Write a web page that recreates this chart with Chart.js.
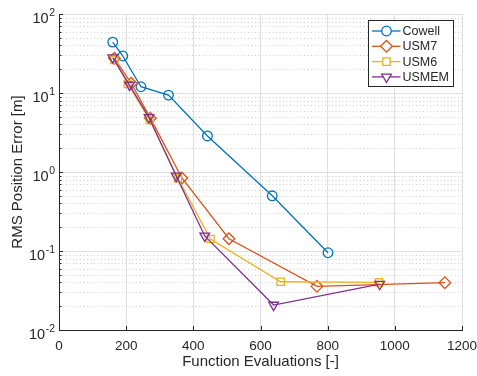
<!DOCTYPE html>
<html>
<head>
<meta charset="utf-8">
<script src="https://cdn.jsdelivr.net/npm/chart.js@4.4.1/dist/chart.umd.min.js"></script>
<style>
  html, body { margin: 0; padding: 0; background: #fff; }
  #wrap { width: 477px; height: 376px; }
</style>
</head>
<body>
<div id="wrap"><canvas id="errChart"></canvas></div>
<script>
// RMS position error vs number of function evaluations, per propagator
const seriesNames = ['Cowell', 'USM7', 'USM6', 'USMEM'];

const cowellEvals = [160, 190, 244, 326, 442, 635, 801];
const cowellErr = [44, 29.4, 12.0, 9.4, 2.86, 0.50, 0.095];

const usm7Evals = [165, 215, 272, 366, 506, 768, 1149];
const usm7Err = [27.5, 13.3, 4.8, 0.84, 0.143, 0.0357, 0.0397];

const usm6Evals = [165, 205, 270, 354, 451, 660, 953];
const usm6Err = [26.2, 13.0, 4.55, 0.83, 0.142, 0.0408, 0.040];

const usmemEvals = [160, 210, 268, 349, 434, 639, 955];
const usmemErr = [28, 12.6, 4.9, 0.89, 0.155, 0.0207, 0.038];

const xTicks = [0, 200, 400, 600, 800, 1000, 1200];
const yTicks = [0.01, 0.1, 1, 10, 100];

const FONT = '"Liberation Sans", Arial, Helvetica, sans-serif';
const INK = '#262626';
const colors = ['#0072BD', '#D95319', '#EDB120', '#7E2F8E'];
const markers = [
  { pointStyle: 'circle', radius: 4.8, rotation: 0 },
  { pointStyle: 'rectRot', radius: 5.8, rotation: 0 },
  { pointStyle: 'rect', radius: 5.2, rotation: 0 },
  { pointStyle: 'triangle', radius: 5.6, rotation: 180 }
];

const evals = [cowellEvals, usm7Evals, usm6Evals, usmemEvals];
const errs = [cowellErr, usm7Err, usm6Err, usmemErr];

const datasets = seriesNames.map((name, i) => ({
  label: name,
  data: evals[i].map((x, j) => ({ x: x, y: errs[i][j] })),
  borderColor: colors[i],
  borderWidth: 1.3,
  backgroundColor: 'rgba(0,0,0,0)',
  pointStyle: markers[i].pointStyle,
  pointRadius: markers[i].radius,
  pointRotation: markers[i].rotation,
  pointBorderWidth: 1.3,
  pointBorderColor: colors[i],
  pointBackgroundColor: 'rgba(0,0,0,0)',
  tension: 0,
  order: seriesNames.length - i   // later series drawn on top
}));

// minor dotted grid, inward ticks, TeX-like y labels and the boxed legend
const axesDecor = {
  id: 'axesDecor',
  beforeDatasetsDraw(chart) {
    const { ctx, chartArea: a, scales: { x, y } } = chart;
    ctx.save();
    ctx.lineWidth = 1;
    ctx.strokeStyle = '#cfcfcf';
    ctx.setLineDash([1, 2.5]);
    for (let e = -2; e < 2; e++) {
      for (let m = 2; m <= 9; m++) {
        const py = Math.round(y.getPixelForValue(m * Math.pow(10, e))) + 0.5;
        ctx.beginPath();
        ctx.moveTo(a.left, py);
        ctx.lineTo(a.right, py);
        ctx.stroke();
      }
    }
    ctx.setLineDash([]);
    ctx.strokeStyle = INK;
    // inward ticks
    x.ticks.forEach(t => {
      const px = Math.round(x.getPixelForValue(t.value)) + 0.5;
      ctx.beginPath();
      ctx.moveTo(px, a.bottom);
      ctx.lineTo(px, a.bottom - 4);
      ctx.stroke();
    });
    for (let e = -2; e <= 2; e++) {
      for (let m = 1; m <= 9; m++) {
        const v = m * Math.pow(10, e);
        if (v > 100) break;
        const py = Math.round(y.getPixelForValue(v)) + 0.5;
        ctx.beginPath();
        ctx.moveTo(a.left, py);
        ctx.lineTo(a.left + (m === 1 ? 4 : 2.5), py);
        ctx.stroke();
      }
    }
    ctx.restore();
  },
  afterDraw(chart) {
    const { ctx, chartArea: a, scales: { y } } = chart;
    ctx.save();
    ctx.fillStyle = INK;
    ctx.textBaseline = 'alphabetic';
    ctx.textAlign = 'left';
    // y tick labels as 10^n
    const right = 55;
    y.ticks.forEach(t => {
      const py = y.getPixelForValue(t.value);
      const sup = String(Math.round(Math.log10(t.value)));
      ctx.font = '10.5px ' + FONT;
      const wSup = ctx.measureText(sup).width;
      ctx.font = '14.5px ' + FONT;
      const wBase = ctx.measureText('10').width;
      ctx.fillText('10', right - wSup - wBase - 0.5, py + 8.5);
      ctx.font = '10.5px ' + FONT;
      ctx.fillText(sup, right - wSup, py + 1.8);
    });

    // legend box
    const bw = 85, bh = 66;
    const bx = Math.round(a.right - 9 - bw) + 0.5;
    const by = Math.round(a.top + 6) + 0.5;
    ctx.fillStyle = '#fff';
    ctx.fillRect(bx, by, bw, bh);
    ctx.strokeStyle = INK;
    ctx.lineWidth = 1;
    ctx.strokeRect(bx, by, bw, bh);
    ctx.font = '12.5px ' + FONT;
    ctx.textBaseline = 'middle';
    chart.data.datasets.forEach((ds, i) => {
      const cy = by + 10.5 + i * 15.3;
      ctx.strokeStyle = ds.borderColor;
      ctx.lineWidth = 1.3;
      ctx.beginPath();
      ctx.moveTo(bx + 3.5, cy);
      ctx.lineTo(bx + 32, cy);
      ctx.stroke();
      ctx.fillStyle = '#fff';
      Chart.helpers.drawPoint(ctx, {
        pointStyle: ds.pointStyle,
        rotation: ds.pointRotation,
        radius: ds.pointRadius,
        borderWidth: 1.3
      }, bx + 18, cy);
      ctx.fillStyle = INK;
      ctx.fillText(ds.label, bx + 34, cy + 0.5);
    });
    ctx.restore();
  }
};

new Chart(document.getElementById('errChart'), {
  type: 'line',
  data: { datasets: datasets },
  options: {
    responsive: true,
    maintainAspectRatio: false,
    animation: false,
    layout: { padding: { top: 14, right: 15, left: 0, bottom: 0 } },
    plugins: {
      legend: { display: false },
      tooltip: { enabled: false }
    },
    scales: {
      x: {
        type: 'linear',
        min: 0,
        max: 1200,
        afterBuildTicks: s => { s.ticks = xTicks.map(v => ({ value: v })); },
        afterFit: s => { s.height = 46; s.paddingRight = 0; },
        grid: { color: '#dedede', lineWidth: 1, drawTicks: false },
        border: { color: INK, width: 1 },
        ticks: {
          font: { family: FONT, size: 13.5 },
          color: INK,
          padding: 8,
          maxRotation: 0,
          autoSkip: false,
          callback: v => String(v)
        },
        title: {
          display: true,
          text: 'Function Evaluations [-]',
          font: { family: FONT, size: 15 },
          color: INK,
          padding: { top: 0, bottom: 5 }
        }
      },
      y: {
        type: 'logarithmic',
        min: 0.01,
        max: 100,
        afterBuildTicks: s => { s.ticks = yTicks.map(v => ({ value: v })); },
        afterFit: s => { s.width = 59; },
        grid: { color: '#dedede', lineWidth: 1, drawTicks: false },
        border: { color: INK, width: 1 },
        ticks: { display: false },
        title: {
          display: true,
          text: 'RMS Position Error [m]',
          font: { family: FONT, size: 15 },
          color: INK,
          padding: { top: 9, bottom: 0 }
        }
      }
    }
  },
  plugins: [axesDecor]
});
</script>
</body>
</html>
